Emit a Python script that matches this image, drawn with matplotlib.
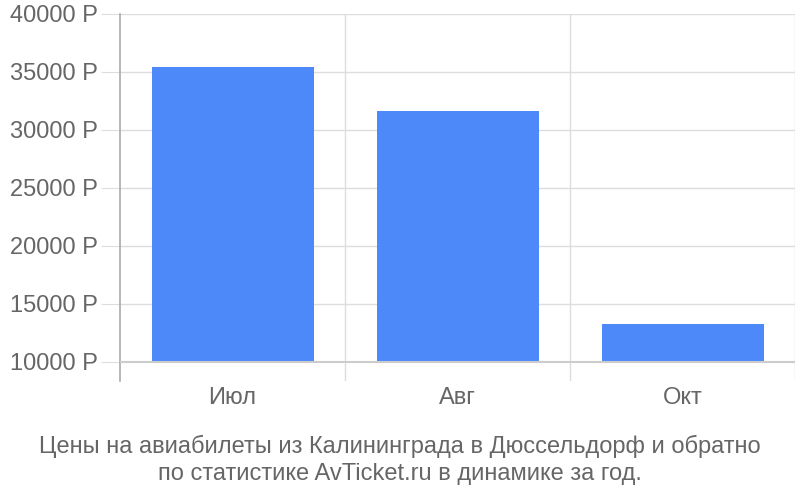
import matplotlib.pyplot as plt
import numpy as np

months = ["Июл", "Авг", "Окт"]
prices = [35470, 31610, 13280]
y_ticks = [10000, 15000, 20000, 25000, 30000, 35000, 40000]
title_lines = ["Цены на авиабилеты из Калининграда в Дюссельдорф и обратно",
               "по статистике AvTicket.ru в динамике за год."]

plt.rcParams['font.family'] = ['Liberation Sans', 'DejaVu Sans']

fig = plt.figure(figsize=(8, 5), dpi=100)
ax = fig.add_axes([0.15, 0.238, 0.84375, 0.734])

x = np.arange(len(months)) + 0.5
base = y_ticks[0]
heights = [p - base for p in prices]
ax.bar(x, heights, bottom=base, width=0.72, color="#4d89f9", zorder=3)

ax.set_xlim(0, len(months))
ax.set_ylim(8360, 40000)

# grid
for t in y_ticks[1:]:
    ax.axhline(t, color="#dddddd", lw=1, zorder=1)
ax.axhline(base, color="#cccccc", lw=1.5, zorder=4)
for b in range(1, len(months) + 1):
    ax.axvline(b, color="#dddddd", lw=1, zorder=1)

for s in ["top", "right", "bottom"]:
    ax.spines[s].set_visible(False)
ax.spines["left"].set_color("#aaaaaa")
ax.spines["left"].set_linewidth(1.2)

ax.set_yticks(y_ticks)
ax.set_yticklabels([f"{t} Р" for t in y_ticks], fontsize=17, color="#666666")
ax.tick_params(axis="y", length=14, color="#dddddd", pad=2)

ax.set_xticks(x)
ax.set_xticklabels(months, fontsize=17, color="#666666")
ax.tick_params(axis="x", length=0, pad=4)

fig.text(0.5, 0.108, title_lines[0], ha="center", va="center", fontsize=17, color="#666666")
fig.text(0.5, 0.052, title_lines[1], ha="center", va="center", fontsize=17, color="#666666")

fig.savefig("out.png", dpi=100)
